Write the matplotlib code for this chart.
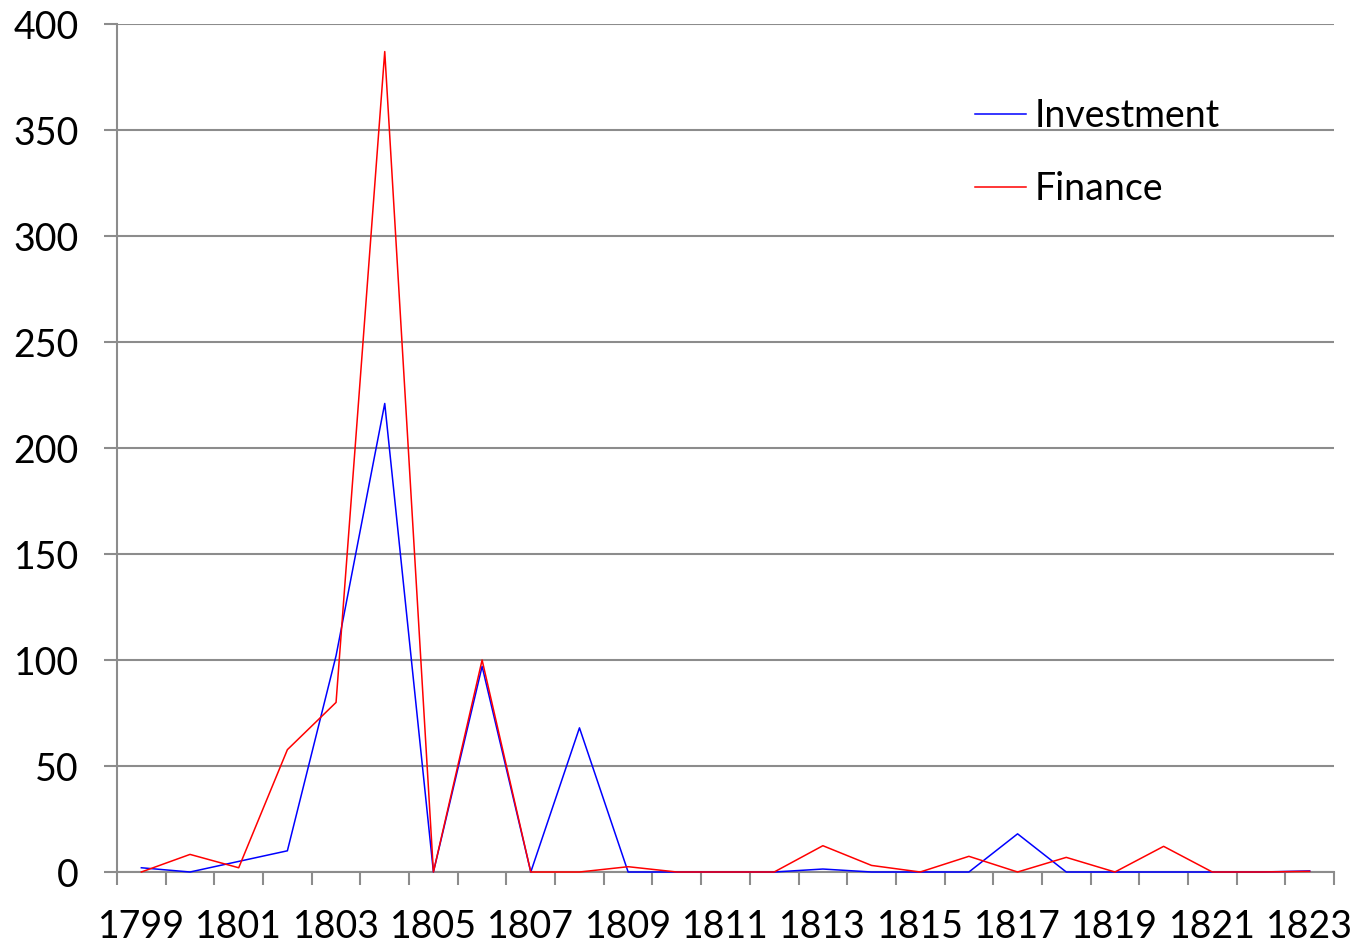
import numpy as np
import matplotlib
matplotlib.use("Agg")
import matplotlib.pyplot as plt
from matplotlib.ticker import FixedLocator

years = list(range(1799, 1824))
investment = [2, 0, 5, 10, 102, 221, 0, 97, 0, 68, 0, 0, 0, 0, 1.4, 0, 0, 0, 18, 0, 0, 0, 0, 0, 0.5]
finance = [0, 8.3, 2, 57.7, 80, 387, 0, 100, 0, 0, 2.5, 0, 0, 0, 12.4, 3.1, 0, 7.4, 0, 6.9, 0, 12.1, 0, 0, 0.3]

plt.rcParams['font.family'] = ['Lato', 'DejaVu Sans']
grey = '#8c8c8c'

fig = plt.figure(figsize=(13.56, 9.46), dpi=100)
ax = fig.add_axes([117 / 1356, 1 - 872 / 946, (1334 - 117) / 1356, (872 - 24) / 946])

x = np.arange(len(years))
ax.plot(x, investment, color='#0000ff', lw=1.1, label='Investment', clip_on=False, zorder=4)
ax.plot(x, finance, color='#ff0000', lw=1.1, label='Finance', clip_on=False, zorder=5)

ax.set_xlim(-0.5, len(years) - 0.5)
ax.set_ylim(0, 400)
ax.set_yticks(range(0, 401, 50))
ax.yaxis.grid(True, color=grey, lw=1.5)
ax.set_axisbelow(True)

# year labels every other category, tick marks at category boundaries
ax.set_xticks(x[::2])
ax.set_xticklabels([str(y) for y in years[::2]])
ax.xaxis.set_minor_locator(FixedLocator(np.arange(-0.5, len(years), 1)))
ax.tick_params(axis='x', which='major', length=0, pad=26.5, labelsize=27)
ax.tick_params(axis='x', which='minor', length=9.5, width=1.5, color=grey)
ax.tick_params(axis='y', length=9.5, width=1.5, color=grey, labelsize=27, pad=18)

for s in ['top', 'right']:
    ax.spines[s].set_visible(False)
for s in ['left', 'bottom']:
    ax.spines[s].set_color(grey)
    ax.spines[s].set_linewidth(1.5)

ax.legend(loc='upper left', bbox_to_anchor=((975 - 117) / 1217, 1 - (98 - 24) / 848),
          frameon=False, fontsize=27, handlelength=1.35, handletextpad=0.25,
          labelspacing=1.0, borderaxespad=0, borderpad=0)

fig.savefig('out.png', dpi=100)
